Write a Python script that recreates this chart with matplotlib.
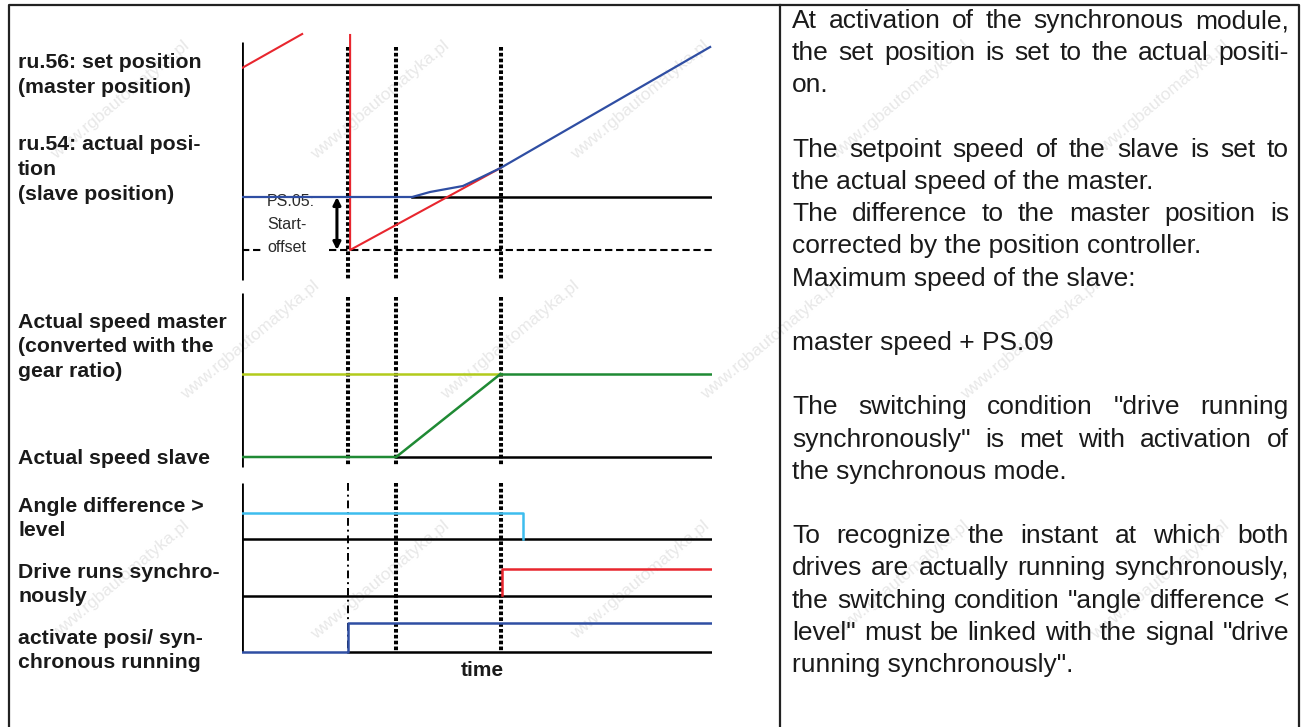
import numpy as np
import matplotlib.pyplot as plt

plt.rcParams['font.family'] = ['Liberation Sans', 'DejaVu Sans']

W, H = 1306, 727

# time runs 0..100 across the diagram, levels are read as pixel rows
t_act = 22.5      # synchronous module activated
t_ramp = 32.8     # slave starts to accelerate
t_sync = 55.0     # slave has caught up with the master
t_angle = 59.8    # angle difference drops below level
markers = [t_act, t_ramp, t_sync]

set_pos_before_t = [0, 12.8]
set_pos_before_y = [68, 34]
set_pos_after_t = [23.0, 23.0, 55.0]
set_pos_after_y = [35, 250, 168]
act_pos_t = [0, 36.2, 40.0, 47.0, 50.6, 55.0, 99.6]
act_pos_y = [197, 197, 192, 186, 178, 168, 47]
offset_level = 250
slave_level = 197
t_arrow = 20.2

master_speed = 374
slave_speed_t = [0, t_ramp, t_sync]
slave_speed_y = [457, 457, 374]

angle_t = [0, t_angle, t_angle]
angle_y = [513, 513, 539]
sync_t = [55.3, 55.3, 100]
sync_y = [595, 569, 569]
activate_t = [0, t_act, t_act, 100]
activate_y = [652, 652, 623, 623]
lane_base = [539, 596]

left_labels = [
    ["ru.56: set position", "(master position)"],
    ["ru.54: actual posi-", "tion", "(slave position)"],
    ["Actual speed master", "(converted with the", "gear ratio)"],
    ["Actual speed slave"],
    ["Angle difference >", "level"],
    ["Drive runs synchro-", "nously"],
    ["activate posi/ syn-", "chronous running"],
]
left_label_y = [63, 145, 322, 458, 506, 572, 638]

# (text, justified); empty strings are blank lines
right_lines = [
    ("At activation of the synchronous module,", True),
    ("the set position is set to the actual positi-", True),
    ("on.", False),
    ("", False),
    ("The setpoint speed of the slave is set to", True),
    ("the actual speed of the master.", False),
    ("The difference to the master position is", True),
    ("corrected by the position controller.", False),
    ("Maximum speed of the slave:", False),
    ("", False),
    ("master speed + PS.09", False),
    ("", False),
    ("The switching condition \"drive running", True),
    ("synchronously\" is met with activation of", True),
    ("the synchronous mode.", False),
    ("", False),
    ("To recognize the instant at which both", True),
    ("drives are actually running synchronously,", True),
    ("the switching condition \"angle difference <", True),
    ("level\" must be linked with the signal \"drive", True),
    ("running synchronously\".", False),
]

fig = plt.figure(figsize=(W / 100, H / 100), dpi=100)
ax = fig.add_axes([0, 0, 1, 1])
ax.set_xlim(0, W)
ax.set_ylim(H, 0)
ax.axis('off')

# watermark (only the copies that fit inside the picture)
for j, wy in enumerate(np.arange(100, 700, 240)):
    for wx in np.arange(120 + (j % 2) * 130, 1200, 260):
        ax.text(wx, wy, "www.rgbautomatyka.pl", rotation=40, fontsize=12.5,
                color='#e8e8e8', ha='center', va='center', zorder=0)

# frame
fc = '#222222'
ax.plot([9, 9, 1299, 1299], [730, 5, 5, 730], color=fc, lw=1.6)
ax.plot([780, 780], [5, 730], color=fc, lw=1.6)

# left labels
for lines, y0 in zip(left_labels, left_label_y):
    for k, s in enumerate(lines):
        ax.text(18, y0 + k * 24.8, s, fontsize=15.3, fontweight='bold',
                va='center', ha='left', color='#1a1a1a')

# right text, justified by spreading the words
renderer = fig.canvas.get_renderer()
x_left, x_right = 792, 1289


def put_line(s, y, justify):
    if not s:
        return
    kw = dict(fontsize=19, va='center', ha='left', color='#1a1a1a')
    if not justify:
        ax.text(x_left, y, s, **kw)
        return
    words = s.split()
    arts = [ax.text(0, y, w, **kw) for w in words]
    widths = [a.get_window_extent(renderer).width for a in arts]
    gap = (x_right - x_left - sum(widths)) / (len(words) - 1)
    x = x_left
    for a, w in zip(arts, widths):
        a.set_x(x)
        x += w + gap


for k, (s, j) in enumerate(right_lines):
    put_line(s, 21 + 32.2 * k, j)

# diagram
x0, x1 = 242, 712
axd = fig.add_axes([x0 / W, 0, (x1 - x0) / W, 1])
axd.set_xlim(0, 100)
axd.set_ylim(H, 0)
axd.axis('off')

# time axis segments
for a, b in [(42, 280), (293, 467), (483, 652)]:
    axd.plot([0, 0], [a, b], color='black', lw=2, solid_capstyle='butt')

# marker lines
dot = dict(color='black', lw=2.9, linestyle=(0, (0.9, 0.55)), dash_capstyle='butt', zorder=2)
for t in markers:
    axd.plot([t, t], [47, 280], **dot)
    axd.plot([t, t], [297, 466], **dot)
    if t == t_act:
        axd.plot([t, t], [483, 652], color='black', lw=1.4,
                 linestyle=(0, (4, 2, 1, 2)), zorder=2)
    else:
        axd.plot([t, t], [483, 652], **dot)

red = '#e8262e'
blue = '#2f4ea3'

# position lane
axd.plot([36.2, 100], [slave_level, slave_level], color='black', lw=1.8, zorder=3)
axd.plot([0, 4.3], [offset_level, offset_level], color='black', lw=1.5,
         linestyle=(0, (3.5, 1.8)), zorder=3)
axd.plot([18.5, 100], [offset_level, offset_level], color='black', lw=1.5,
         linestyle=(0, (3.5, 1.8)), zorder=3)
axd.plot(set_pos_before_t, set_pos_before_y, color=red, lw=1.5, zorder=4)
axd.plot(set_pos_after_t, set_pos_after_y, color=red, lw=1.5, zorder=4)
axd.plot(act_pos_t, act_pos_y, color=blue, lw=1.6, zorder=5)
axd.annotate('', xy=(t_arrow, slave_level), xytext=(t_arrow, offset_level),
             arrowprops=dict(arrowstyle='<|-|>', color='black', lw=2.2,
                             mutation_scale=11, shrinkA=0, shrinkB=0), zorder=4)
for k, s in enumerate(["PS.05:", "Start-", "offset"]):
    ax.text(267, 201 + 23.5 * k, s, fontsize=11.5, color='#2a2a2a',
            va='center', ha='left')

# speed lane
axd.plot([0, t_sync], [master_speed, master_speed], color='#b2cb1c', lw=1.8, zorder=3)
axd.plot([t_sync, 100], [master_speed, master_speed], color='#1f8a34', lw=1.8, zorder=3)
axd.plot([t_ramp, 100.4], [457, 457], color='black', lw=1.8, zorder=3)
axd.plot(slave_speed_t, slave_speed_y, color='#1f8a34', lw=1.8, zorder=4)

# digital lanes
for yb in lane_base:
    axd.plot([0, 100.4], [yb, yb], color='black', lw=1.8, zorder=3)
axd.plot([t_act, 100.4], [652, 652], color='black', lw=1.8, zorder=3)
axd.plot(angle_t, angle_y, color='#3dbdee', lw=1.8, zorder=4)
axd.plot(sync_t, sync_y, color=red, lw=1.8, zorder=4)
axd.plot(activate_t, activate_y, color=blue, lw=1.8, zorder=4)

ax.text(482, 670, "time", fontsize=15, fontweight='bold', ha='center', va='center',
        color='#1a1a1a')

fig.savefig('out.png', dpi=100)
